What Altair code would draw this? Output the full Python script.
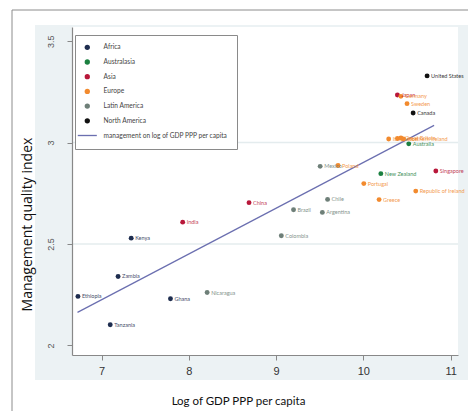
import altair as alt
import pandas as pd

# ---- data ----
countries = ["Ethiopia", "Tanzania", "Zambia", "Kenya", "Ghana",
             "India", "China", "Singapore", "Japan",
             "Nicaragua", "Colombia", "Brazil", "Argentina", "Chile", "Mexico",
             "New Zealand", "Australia",
             "Poland", "Portugal", "Greece", "Republic of Ireland",
             "Italy", "France", "Great Britain", "Northern Ireland",
             "Germany", "Sweden",
             "Canada", "United States"]
regions = ["Africa", "Africa", "Africa", "Africa", "Africa",
           "Asia", "Asia", "Asia", "Asia",
           "Latin America", "Latin America", "Latin America", "Latin America", "Latin America", "Latin America",
           "Australasia", "Australasia",
           "Europe", "Europe", "Europe", "Europe",
           "Europe", "Europe", "Europe", "Europe",
           "Europe", "Europe",
           "North America", "North America"]
log_gdp = [6.73, 7.10, 7.19, 7.34, 7.79,
           7.93, 8.69, 10.83, 10.39,
           8.21, 9.06, 9.20, 9.53, 9.59, 9.505,
           10.20, 10.52,
           9.71, 10.005, 10.18, 10.60,
           10.29, 10.39, 10.43, 10.46,
           10.43, 10.50,
           10.57, 10.73]
mgmt = [2.242, 2.102, 2.340, 2.529, 2.230,
        2.608, 2.704, 2.860, 3.235,
        2.261, 2.541, 2.669, 2.656, 2.720, 2.883,
        2.847, 2.994,
        2.887, 2.798, 2.719, 2.761,
        3.018, 3.020, 3.023, 3.018,
        3.228, 3.192,
        3.146, 3.329]

fit_label = "management on log of GDP PPP per capita"
fit_x = [6.725, 10.81]
fit_y = [2.163, 3.085]

region_order = ["Africa", "Australasia", "Asia", "Europe", "Latin America", "North America"]
region_colors = ["#1e2d4f", "#1b8040", "#b8173a", "#f28a2e", "#6e7f78", "#111111"]
fit_color = "#6b6fb0"

grid_values = [2.5, 3.0]
x_ticks = [7, 8, 9, 10, 11]
y_ticks = [2, 2.5, 3, 3.5]

df = pd.DataFrame({"country": countries, "region": regions, "x": log_gdp, "y": mgmt})
fit_df = pd.DataFrame({"x": fit_x, "y": fit_y})
grid_df = pd.DataFrame({"y": grid_values})

xscale = alt.Scale(domain=[6.662, 11.084], nice=False, zero=False)
yscale = alt.Scale(domain=[1.953, 3.570], nice=False, zero=False)

x_axis = alt.Axis(values=x_ticks, format="d", grid=False, zindex=2,
                  title="Log of GDP PPP per capita",
                  titleFont="Lato", titleFontSize=11.5, titleFontWeight="normal",
                  titleColor="#111", titleX=166, titleY=46,
                  titleBaseline="middle", titleAlign="center",
                  labelFont="Liberation Sans", labelFontSize=11, labelColor="#333",
                  labelBaseline="top", labelPadding=5,
                  tickSize=5, tickColor="#888", domainColor="#888", domainWidth=1.2)
y_axis = alt.Axis(values=y_ticks, format="~g", grid=False, zindex=2,
                  title="Management quality index",
                  titleFont="Open Sans", titleFontSize=14, titleFontWeight="normal",
                  titleColor="#111", titleAngle=270, titleX=-45, titleY=197,
                  titleAlign="center", titleBaseline="middle",
                  labelFont="Liberation Sans", labelFontSize=9, labelColor="#555",
                  labelAngle=270, labelAlign="center", labelBaseline="middle",
                  labelPadding=17,
                  tickSize=5, tickColor="#888", domainColor="#888", domainWidth=1.2)

legend_domain = region_order + [fit_label]
color_scale = alt.Scale(domain=legend_domain, range=region_colors + [fit_color])
line_path = "M-3.6,-0.25L3.6,-0.25L3.6,0.25L-3.6,0.25Z"
shape_scale = alt.Scale(domain=legend_domain, range=["circle"] * 6 + [line_path])

legend = alt.Legend(title=None, orient="none", legendX=3, legendY=8, zindex=3,
                    fillColor="white", strokeColor="#8a8a8a",
                    padding=9, rowPadding=7.7, labelOffset=13,
                    symbolSize=28, symbolStrokeWidth=0,
                    labelFont="Lato", labelFontSize=6.6, labelColor="#444",
                    labelLimit=300)

X = alt.X("x:Q", scale=xscale, axis=x_axis)
Y = alt.Y("y:Q", scale=yscale, axis=y_axis)

one = alt.Data(values=[{}])

# decorations: outer frame, graph region tint, white plot region
frame = alt.Chart(one).mark_rect(fill="white", stroke="#8c8c8c", strokeWidth=1).encode(
    x=alt.value(-60), x2=alt.value(430), y=alt.value(-17), y2=alt.value(430))
region_bg = alt.Chart(one).mark_rect(fill="#ecf2f4").encode(
    x=alt.value(-37), x2=alt.value(430), y=alt.value(-2), y2=alt.value(353))
plot_bg = alt.Chart(one).mark_rect(fill="white").encode(
    x=alt.value(0), x2=alt.value(386), y=alt.value(0), y2=alt.value(328))

grid = alt.Chart(grid_df).mark_rule(color="#e4ecee", strokeWidth=1.5).encode(y=Y)

fit = alt.Chart(fit_df).mark_line(color=fit_color, strokeWidth=1.2).encode(x=X, y=Y)

points = alt.Chart(df).mark_point(filled=True, size=24, opacity=1).encode(
    x=X, y=Y,
    color=alt.Color("region:N", scale=color_scale, legend=legend),
    shape=alt.Shape("region:N", scale=shape_scale, legend=legend),
)

labels = alt.Chart(df).mark_text(align="left", baseline="middle", dx=4, fontSize=5.5,
                                 font="Lato", opacity=0.85).encode(
    x=X, y=Y,
    text="country:N",
    color=alt.Color("region:N", scale=color_scale, legend=legend))

chart = alt.layer(frame, region_bg, plot_bg, grid, fit, points, labels).properties(
    width=386, height=328,
    autosize=alt.AutoSizeParams(type="none"),
    padding={"left": 64, "top": 19, "right": 10, "bottom": 56},
).configure_view(stroke=None).configure(background="white")

chart.save("out.html", embed_options={"renderer": "svg", "actions": False})
